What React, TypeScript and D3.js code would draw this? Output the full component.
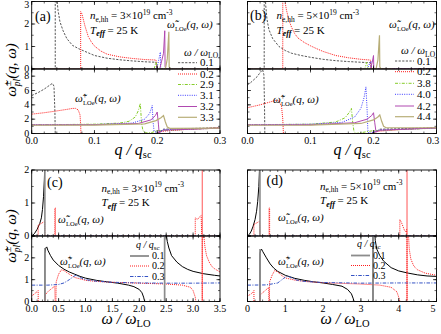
import React from "react";
import * as d3 from "d3";

type Pt = [number, number];

const SERIF = "'Liberation Serif', 'DejaVu Serif', serif";
const OMT = "\u03C9\u0303"; // omega with tilde

// ---------- (a)  n = 3e19, x = q/q_sc ----------
const aMinus01: Pt[] = [[0, 0], [0.0375, 0], [0.0375, 3.5], [0.0398, 3.5], [0.0405, 3.0], [0.042, 2.6], [0.045, 2.1], [0.05, 1.7], [0.056, 1.35], [0.065, 1.05], [0.075, 0.9], [0.085, 0.78], [0.1, 0.6], [0.12, 0.48], [0.14, 0.41], [0.16, 0.36], [0.18, 0.32], [0.198, 0.3], [0.2, 0], [0.3, 0]];
const aMinus02: Pt[] = [[0, 0], [0.078, 0], [0.078, 2.55], [0.08, 2.45], [0.085, 1.9], [0.09, 1.45], [0.095, 1.2], [0.1, 1.02], [0.11, 0.8], [0.12, 0.66], [0.14, 0.54], [0.16, 0.47], [0.18, 0.42], [0.198, 0.4], [0.2, 0], [0.3, 0]];
const aMinus29: Pt[] = [[0, 0], [0.195, 0], [0.198, 0.3], [0.2, 0.1], [0.201, 0], [0.3, 0]];
const aMinus31: Pt[] = [[0, 0], [0.199, 0], [0.202, 0.35], [0.205, 0.75], [0.2055, 0], [0.3, 0]];
const aMinus32: Pt[] = [[0, 0], [0.204, 0], [0.207, 0.35], [0.21, 0.7], [0.212, 1.7], [0.2125, 0.1], [0.214, 0], [0.3, 0]];
const aMinus33: Pt[] = [[0, 0], [0.213, 0], [0.216, 0.45], [0.2185, 1.65], [0.219, 0.1], [0.221, 0], [0.3, 0]];

const aPlus01: Pt[] = [[0, 5.3], [0.01, 5.7], [0.02, 6.2], [0.028, 6.7], [0.033, 7.0], [0.0355, 6.6], [0.037, 3.0], [0.0375, 0], [0.2, 0], [0.21, 0.6], [0.3, 0.8]];
const aPlus02: Pt[] = [[0, 2.7], [0.02, 2.9], [0.04, 3.15], [0.055, 3.35], [0.065, 3.5], [0.07, 3.5], [0.074, 3.3], [0.077, 2.6], [0.078, 1.2], [0.0785, 0], [0.2, 0], [0.205, 0.3], [0.25, 0.6], [0.3, 0.8]];
const aPlus29: Pt[] = [[0, 1.22], [0.05, 1.25], [0.1, 1.3], [0.14, 1.45], [0.155, 1.7], [0.165, 2.3], [0.17, 3.2], [0.173, 4.2], [0.175, 1.5], [0.177, 0.5], [0.18, 0.1], [0.19, 0.1], [0.2, 0.4], [0.3, 0.75]];
const aPlus31: Pt[] = [[0, 1.2], [0.1, 1.25], [0.16, 1.45], [0.18, 2.0], [0.188, 2.8], [0.192, 3.9], [0.1935, 1.5], [0.195, 0.3], [0.2, 0.1], [0.21, 0.55], [0.3, 0.75]];
const aPlus32: Pt[] = [[0, 1.2], [0.1, 1.22], [0.17, 1.4], [0.19, 1.9], [0.197, 2.5], [0.2, 3.0], [0.202, 1.2], [0.203, 0.1], [0.21, 0.45], [0.3, 0.75]];
const aPlus33: Pt[] = [[0, 1.15], [0.1, 1.18], [0.18, 1.35], [0.198, 1.8], [0.206, 2.2], [0.21, 2.5], [0.213, 1.6], [0.216, 0.9], [0.22, 0.72], [0.3, 0.75]];

// ---------- (b)  n = 5e19, x = q/q_sc ----------
const bMinus01: Pt[] = [[0, 0], [0.0265, 0], [0.0265, 3.5], [0.0278, 3.5], [0.029, 2.8], [0.031, 2.2], [0.034, 1.75], [0.04, 1.35], [0.05, 1.0], [0.06, 0.82], [0.07, 0.7], [0.085, 0.6], [0.1, 0.52], [0.12, 0.43], [0.14, 0.37], [0.16, 0.33], [0.18, 0.3], [0.195, 0.28], [0.197, 0], [0.3, 0]];
const bMinus02: Pt[] = [[0, 0], [0.056, 0], [0.056, 3.5], [0.058, 3.5], [0.0595, 3.0], [0.062, 2.6], [0.066, 2.15], [0.07, 1.85], [0.075, 1.57], [0.08, 1.38], [0.09, 1.18], [0.1, 1.03], [0.11, 0.9], [0.12, 0.78], [0.14, 0.6], [0.16, 0.5], [0.18, 0.43], [0.195, 0.4], [0.197, 0], [0.3, 0]];
const bMinus38: Pt[] = [[0, 0], [0.186, 0], [0.189, 0.3], [0.191, 0.05], [0.192, 0], [0.3, 0]];
const bMinus40: Pt[] = [[0, 0], [0.19, 0], [0.194, 0.25], [0.196, 0.35], [0.197, 0], [0.3, 0]];
const bMinus42: Pt[] = [[0, 0], [0.195, 0], [0.198, 0.3], [0.2, 0.6], [0.2005, 0], [0.3, 0]];
const bMinus44: Pt[] = [[0, 0], [0.204, 0], [0.207, 0.4], [0.2095, 1.5], [0.21, 0.1], [0.212, 0], [0.23, 0]];

const bPlus01: Pt[] = [[0, 6.8], [0.005, 7.1], [0.01, 7.5], [0.015, 7.9], [0.02, 8.5], [0.024, 8.9], [0.026, 8.2], [0.027, 4], [0.0275, 0], [0.2, 0], [0.21, 0.6], [0.3, 0.8]];
const bPlus02: Pt[] = [[0, 3.6], [0.01, 3.8], [0.02, 4.0], [0.03, 4.25], [0.04, 4.5], [0.046, 4.65], [0.05, 4.5], [0.054, 3.8], [0.056, 2.0], [0.057, 0], [0.195, 0], [0.205, 0.3], [0.25, 0.6], [0.3, 0.8]];
const bPlus38: Pt[] = [[0, 1.22], [0.1, 1.3], [0.14, 1.6], [0.155, 2.2], [0.162, 3.0], [0.165, 3.5], [0.167, 1.5], [0.169, 0.3], [0.172, 0], [0.2, 0.4], [0.3, 0.75]];
const bPlus40: Pt[] = [[0, 1.2], [0.1, 1.3], [0.15, 1.55], [0.17, 2.3], [0.18, 3.5], [0.185, 5.0], [0.188, 6.5], [0.19, 3.0], [0.191, 0.5], [0.193, 0], [0.21, 0.5], [0.3, 0.75]];
const bPlus42: Pt[] = [[0, 1.2], [0.1, 1.22], [0.17, 1.5], [0.19, 2.0], [0.197, 2.5], [0.2, 2.9], [0.202, 1.5], [0.204, 0.2], [0.21, 0.45], [0.3, 0.78]];
const bPlus44: Pt[] = [[0, 1.15], [0.1, 1.18], [0.18, 1.4], [0.2, 1.9], [0.207, 2.3], [0.21, 2.6], [0.213, 1.7], [0.216, 1.0], [0.22, 0.8], [0.3, 0.8]];

// ---------- (c)  n = 3e19, x = w/w_LO ----------
const cMinus01: Pt[] = [[0, 0], [0.05, 0.07], [0.1, 0.2], [0.15, 0.38], [0.18, 0.55], [0.2, 0.8], [0.22, 1.2], [0.235, 1.7], [0.245, 2.2]];
const cMinus02: Pt[] = [[0, 0], [0.12, 0], [0.12, 0.33], [0.18, 0.38], [0.24, 0.45], [0.245, 0], [0.43, 0], [0.43, 0.85], [0.44, 0.85], [0.44, 0], [3.04, 0], [3.04, 0.55], [3.08, 0.5], [3.12, 0.58], [3.15, 0.62], [3.16, 0], [3.5, 0]];
const cMinus03: Pt[] = [[0, 0], [3.5, 0]];

const cPlus01: Pt[] = [[0.245, 0], [0.245, 2.2], [0.26, 2.45], [0.28, 2.5], [0.3, 2.35], [0.35, 2.1], [0.4, 1.9], [0.5, 1.65], [0.6, 1.48], [0.7, 1.35], [0.8, 1.25], [0.9, 1.15], [1.0, 1.07], [1.2, 0.97], [1.4, 0.9], [1.6, 0.84], [1.8, 0.75], [1.9, 0.68], [2.0, 0.55], [2.05, 0.4], [2.08, 0.2], [2.1, 0], [2.47, 0], [2.47, 3.5], [2.49, 3.5], [2.5, 3.1], [2.52, 2.75], [2.55, 2.45], [2.6, 2.1], [2.7, 1.8], [2.8, 1.6], [2.9, 1.47], [3.0, 1.38], [3.2, 1.27], [3.4, 1.2], [3.5, 1.17]];
const cPlus02: Pt[] = [[0, 0.25], [0.05, 0.35], [0.1, 0.45], [0.12, 0.5], [0.121, 0], [0.245, 0], [0.25, 0.3], [0.3, 0.45], [0.35, 0.55], [0.4, 0.65], [0.43, 0.7], [0.435, 0], [0.45, 0], [0.455, 0.9], [0.5, 1.25], [0.55, 1.45], [0.6, 1.42], [0.7, 1.25], [0.8, 1.1], [1.0, 0.97], [1.2, 0.92], [1.5, 0.88], [2.0, 0.84], [2.5, 0.8], [2.8, 0.75], [2.95, 0.65], [3.0, 0.5], [3.04, 0.2], [3.05, 0], [3.17, 0], [3.17, 3.5], [3.19, 3.5], [3.2, 3.0], [3.22, 2.5], [3.25, 2.1], [3.3, 1.8], [3.35, 1.6], [3.4, 1.5], [3.5, 1.35]];
const cPlus03: Pt[] = [[0, 0.75], [0.3, 0.75], [0.5, 0.78], [0.6, 0.85], [0.7, 1.0], [0.78, 1.15], [0.82, 1.2], [0.9, 1.1], [1.0, 1.0], [1.2, 0.93], [1.5, 0.88], [2.0, 0.85], [2.5, 0.84], [3.0, 0.84], [3.5, 0.85]];

// ---------- (d)  n = 5e19, x = w/w_LO ----------
const dMinus01: Pt[] = [[0, 0], [0.05, 0.05], [0.1, 0.15], [0.15, 0.3], [0.2, 0.5], [0.24, 0.75], [0.27, 1.05], [0.3, 1.5], [0.32, 2.1]];
const dMinus02: Pt[] = [[0, 0], [0.17, 0], [0.17, 0.35], [0.25, 0.4], [0.32, 0.45], [0.33, 0], [0.57, 0], [0.57, 0.85], [0.585, 0.85], [0.585, 0], [4.03, 0], [4.03, 0.5], [4.07, 0.42], [4.11, 0.3], [4.15, 0.18], [4.19, 0.12], [4.21, 0.2], [4.215, 0], [5, 0]];
const dMinus03: Pt[] = [[0, 0], [5, 0]];

const dPlus01: Pt[] = [[0.33, 0], [0.33, 2.2], [0.35, 2.35], [0.37, 2.4], [0.4, 2.3], [0.5, 2.0], [0.6, 1.72], [0.7, 1.52], [0.8, 1.38], [1.0, 1.2], [1.25, 1.06], [1.5, 0.97], [1.75, 0.9], [2.0, 0.85], [2.25, 0.78], [2.5, 0.7], [2.65, 0.55], [2.75, 0.35], [2.8, 0.12], [2.82, 0], [3.32, 0], [3.32, 3.5], [3.35, 3.5], [3.38, 2.8], [3.42, 2.4], [3.5, 2.1], [3.6, 1.85], [3.8, 1.55], [4.0, 1.4], [4.25, 1.3], [4.5, 1.22], [4.75, 1.17], [5, 1.15]];
const dPlus02: Pt[] = [[0, 0.25], [0.1, 0.35], [0.15, 0.45], [0.17, 0.5], [0.171, 0], [0.33, 0], [0.335, 0.3], [0.4, 0.4], [0.5, 0.55], [0.56, 0.65], [0.565, 0], [0.58, 0], [0.585, 0.9], [0.65, 1.2], [0.72, 1.42], [0.8, 1.35], [0.9, 1.2], [1.0, 1.08], [1.25, 0.98], [1.5, 0.92], [2.0, 0.86], [2.5, 0.83], [3.0, 0.8], [3.5, 0.75], [3.8, 0.65], [3.95, 0.45], [4.02, 0.1], [4.03, 0], [4.22, 0], [4.22, 3.5], [4.24, 3.5], [4.26, 3.0], [4.28, 2.4], [4.32, 1.95], [4.4, 1.62], [4.5, 1.45], [4.7, 1.3], [5, 1.2]];
const dPlus03: Pt[] = [[0, 0.75], [0.5, 0.76], [0.8, 0.85], [0.95, 1.05], [1.05, 1.17], [1.15, 1.1], [1.3, 0.98], [1.5, 0.92], [2, 0.87], [3, 0.84], [4, 0.85], [5, 0.85]];

// poles: [x, top of gray line]
const cGrayUpper: Pt[] = [[0.245, 2]];
const cGrayLower: Pt[] = [[0.245, 2.45], [2.47, 3]];
const cRedPoles = [3.17];
const dGrayUpper: Pt[] = [[0.33, 2]];
const dGrayLower: Pt[] = [[0.33, 2.4], [3.32, 3]];
const dRedPoles = [4.22];

// legends / labels
const legendA = ["0.1", "0.2", "2.9", "3.1", "3.2", "3.3"];
const legendB = ["0.1", "0.2", "3.8", "4.0", "4.2", "4.4"];
const legendQ = ["0.1", "0.2", "0.3"];
const densities = ["3", "5"];
const panelTags = ["(a)", "(b)", "(c)", "(d)"];

interface Style { stroke: string; width: number; dash?: string }

const topStyles: Style[] = [
  { stroke: "#2a2a2a", width: 0.8, dash: "2.2,1.4" },
  { stroke: "#ff1a1a", width: 1, dash: "1,1" },
  { stroke: "#86cc2a", width: 1, dash: "3,1.4,1,1.4" },
  { stroke: "#3c3cff", width: 1, dash: "1,1.3" },
  { stroke: "#b049b0", width: 1 },
  { stroke: "#b8ae78", width: 1.2 },
];
const botStyles: Style[] = [
  { stroke: "#000", width: 1 },
  { stroke: "#ff1a1a", width: 1, dash: "1,1" },
  { stroke: "#3553c4", width: 1, dash: "3.5,1.4,1,1.4" },
];
const botLegendStyles: Style[] = [
  { stroke: "#8c8c8c", width: 1.8 },
  botStyles[1],
  botStyles[2],
];

interface SubProps {
  id: string;
  xr: [number, number];
  yr: [number, number];
  xDomain: [number, number];
  yDomain: [number, number];
  series: Pt[][];
  styles: Style[];
  grayPoles?: Pt[];
  redPoles?: number[];
  xMajor: number;
  xMinor: number;
  yMajor: number;
  yMinor: number;
  yLabels?: number[];
  xFormat?: (v: number) => string;
}

function Subplot(p: SubProps) {
  const [x0, x1] = p.xr;
  const [y0, y1] = p.yr;
  const x = d3.scaleLinear().domain(p.xDomain).range(p.xr);
  const y = d3.scaleLinear().domain(p.yDomain).range([y1, y0]);
  const line = d3.line<Pt>().x(d => x(d[0])).y(d => y(d[1]));
  const e = 1e-9;
  const xMaj = d3.range(p.xDomain[0], p.xDomain[1] + e, p.xMajor);
  const xMin = d3.range(p.xDomain[0], p.xDomain[1] + e, p.xMinor);
  const yMaj = d3.range(p.yDomain[0], p.yDomain[1] + e, p.yMajor);
  const yMin = d3.range(p.yDomain[0], p.yDomain[1] + e, p.yMinor);
  const tk = "#000";
  return (
    <g>
      <defs>
        <clipPath id={p.id}>
          <rect x={x0} y={y0} width={x1 - x0} height={y1 - y0} />
        </clipPath>
      </defs>
      <g clipPath={`url(#${p.id})`}>
        {p.series.map((s, i) => (
          <path key={i} d={line(s) ?? ""} fill="none" stroke={p.styles[i].stroke}
            strokeWidth={p.styles[i].width} strokeDasharray={p.styles[i].dash} />
        ))}
        {(p.grayPoles ?? []).map(([px, top], i) => (
          <line key={"g" + i} x1={x(px)} x2={x(px)} y1={y(0)} y2={y(top)} stroke="#8c8c8c" strokeWidth={1.6} />
        ))}
        {(p.redPoles ?? []).map((px, i) => (
          <line key={"r" + i} x1={x(px)} x2={x(px)} y1={y1} y2={y0} stroke="#ff2a2a" strokeWidth={0.8} />
        ))}
      </g>
      <rect x={x0} y={y0} width={x1 - x0} height={y1 - y0} fill="none" stroke="#000" strokeWidth={0.9} />
      {xMaj.map((v, i) => (
        <g key={"xM" + i}>
          <line x1={x(v)} x2={x(v)} y1={y1} y2={y1 - 3.5} stroke={tk} strokeWidth={0.7} />
          <line x1={x(v)} x2={x(v)} y1={y0} y2={y0 + 3.5} stroke={tk} strokeWidth={0.7} />
        </g>
      ))}
      {xMin.map((v, i) => (
        <g key={"xm" + i}>
          <line x1={x(v)} x2={x(v)} y1={y1} y2={y1 - 2} stroke={tk} strokeWidth={0.6} />
          <line x1={x(v)} x2={x(v)} y1={y0} y2={y0 + 2} stroke={tk} strokeWidth={0.6} />
        </g>
      ))}
      {yMaj.map((v, i) => (
        <g key={"yM" + i}>
          <line x1={x0} x2={x0 + 3.5} y1={y(v)} y2={y(v)} stroke={tk} strokeWidth={0.7} />
          <line x1={x1} x2={x1 - 3.5} y1={y(v)} y2={y(v)} stroke={tk} strokeWidth={0.7} />
        </g>
      ))}
      {yMin.map((v, i) => (
        <g key={"ym" + i}>
          <line x1={x0} x2={x0 + 2} y1={y(v)} y2={y(v)} stroke={tk} strokeWidth={0.6} />
          <line x1={x1} x2={x1 - 2} y1={y(v)} y2={y(v)} stroke={tk} strokeWidth={0.6} />
        </g>
      ))}
      {(p.yLabels ?? []).map((v, i) => (
        <text key={"yl" + i} x={x0 - 2.5} y={Math.max(y(v) + 3.3, 8)} textAnchor="end" fontFamily={SERIF} fontSize={10}>{v}</text>
      ))}
      {p.xFormat && xMaj.map((v, i) => (
        <text key={"xl" + i} x={Math.min(x(v), 433)} y={y1 + 10} textAnchor="middle" fontFamily={SERIF} fontSize={10}>{p.xFormat!(v)}</text>
      ))}
    </g>
  );
}

function OmegaLabel({ x, y, sign }: { x: number; y: number; sign: string }) {
  return (
    <text x={x} y={y} fontFamily={SERIF} fontSize={11} fontStyle="italic">
      {OMT}
      <tspan fontSize={7.5} dy={-4.5} fontStyle="normal">{sign}</tspan>
      <tspan fontSize={6.5} dx={-4} dy={7.5} fontStyle="normal">LOe</tspan>
      <tspan dy={-3}>{"(q, \u03C9)"}</tspan>
    </text>
  );
}

function Conditions({ x, y, dens }: { x: number; y: number; dens: string }) {
  return (
    <g fontFamily={SERIF} fontSize={11}>
      <text x={x} y={y}>
        <tspan fontStyle="italic">n</tspan>
        <tspan fontSize={7.5} dy={2.5}>e,hh</tspan>
        <tspan dy={-2.5}>{" = " + dens + "\u00D710"}</tspan>
        <tspan fontSize={7.5} dy={-4.5}>19</tspan>
        <tspan dy={4.5}>{" cm"}</tspan>
        <tspan fontSize={7.5} dy={-4.5}>-3</tspan>
      </text>
      <text x={x} y={y + 14.5}>
        <tspan fontStyle="italic">T</tspan>
        <tspan fontSize={8} dy={2.5} fontStyle="italic" fontWeight="bold">eff</tspan>
        <tspan dy={-2.5}>{" = 25 K"}</tspan>
      </text>
    </g>
  );
}

function Legend({ x, y, rows, labels, styles, title, size }: { x: number; y: number; rows: number[]; labels: string[]; styles: Style[]; title: React.ReactNode; size: number }) {
  return (
    <g fontFamily={SERIF} fontSize={size}>
      <text x={x + 6} y={y}>{title}</text>
      {labels.map((l, i) => (
        <g key={l + i}>
          <line x1={x} x2={x + 19} y1={rows[i]} y2={rows[i]} stroke={styles[i].stroke}
            strokeWidth={styles[i].width} strokeDasharray={styles[i].dash} />
          <text x={x + 22} y={rows[i] + size * 0.34}>{l}</text>
        </g>
      ))}
    </g>
  );
}

const wTitle = (
  <>
    <tspan fontStyle="italic">{"\u03C9 / \u03C9"}</tspan>
    <tspan fontSize={7.5} dy={2.5}>LO</tspan>
  </>
);
const qTitle = (
  <>
    <tspan fontStyle="italic">{"q / q"}</tspan>
    <tspan fontSize={7} dy={2}>sc</tspan>
  </>
);

function YTitle({ cx, cy }: { cx: number; cy: number }) {
  return (
    <text transform={`translate(${cx},${cy}) rotate(-90)`} textAnchor="middle" fontFamily={SERIF} fontSize={15} fontStyle="italic">
      {OMT}
      <tspan fontSize={10} dy={-5} fontStyle="normal">{"\u00B1"}</tspan>
      <tspan fontSize={9.5} dx={-5.5} dy={9}>pl</tspan>
      <tspan dy={-4}>{"(q, \u03C9)"}</tspan>
    </text>
  );
}

function XTitle({ cx, y, sym, sub }: { cx: number; y: number; sym: string; sub: string }) {
  return (
    <text x={cx} y={y} textAnchor="middle" fontFamily={SERIF} fontSize={16} fontStyle="italic">
      {sym + " / " + sym}
      <tspan fontSize={10.5} dy={3} fontStyle="normal">{sub}</tspan>
    </text>
  );
}

export default function App() {
  const colL: [number, number] = [31.7, 220];
  const colR: [number, number] = [247.5, 436.5];
  const tU: [number, number] = [1.5, 69];
  const tL: [number, number] = [69, 133.5];
  const bU: [number, number] = [170, 236];
  const bL: [number, number] = [236, 301.5];
  const f1 = d3.format(".1f");
  const f0 = d3.format("d");
  return (
    <svg width={441} height={334} style={{ position: "absolute", left: 0, top: 0, background: "#fff" }}>
      {/* (a) */}
      <Subplot id="aU" xr={colL} yr={tU} xDomain={[0, 0.3]} yDomain={[0, 3]}
        series={[aMinus01, aMinus02, aMinus29, aMinus31, aMinus32, aMinus33]} styles={topStyles}
        xMajor={0.1} xMinor={0.02} yMajor={1} yMinor={0.5} yLabels={[0, 1, 2, 3]} />
      <Subplot id="aL" xr={colL} yr={tL} xDomain={[0, 0.3]} yDomain={[0, 9]}
        series={[aPlus01, aPlus02, aPlus29, aPlus31, aPlus32, aPlus33]} styles={topStyles}
        xMajor={0.1} xMinor={0.02} yMajor={2} yMinor={1} yLabels={[0, 2, 4, 6, 8]} xFormat={f1} />
      {/* (b) */}
      <Subplot id="bU" xr={colR} yr={tU} xDomain={[0, 0.3]} yDomain={[0, 3]}
        series={[bMinus01, bMinus02, bMinus38, bMinus40, bMinus42, bMinus44]} styles={topStyles}
        xMajor={0.1} xMinor={0.02} yMajor={1} yMinor={0.5} />
      <Subplot id="bL" xr={colR} yr={tL} xDomain={[0, 0.3]} yDomain={[0, 9]}
        series={[bPlus01, bPlus02, bPlus38, bPlus40, bPlus42, bPlus44]} styles={topStyles}
        xMajor={0.1} xMinor={0.02} yMajor={2} yMinor={1} xFormat={f1} />
      {/* (c) */}
      <Subplot id="cU" xr={colL} yr={bU} xDomain={[0, 3.5]} yDomain={[0, 2]}
        series={[cMinus01, cMinus02, cMinus03]} styles={botStyles} grayPoles={cGrayUpper} redPoles={cRedPoles}
        xMajor={0.5} xMinor={0.1} yMajor={1} yMinor={0.5} yLabels={[0, 1, 2]} />
      <Subplot id="cL" xr={colL} yr={bL} xDomain={[0, 3.5]} yDomain={[0, 3]}
        series={[cPlus01, cPlus02, cPlus03]} styles={botStyles} grayPoles={cGrayLower} redPoles={cRedPoles}
        xMajor={0.5} xMinor={0.1} yMajor={1} yMinor={0.5} yLabels={[0, 1, 2]} xFormat={f1} />
      {/* (d) */}
      <Subplot id="dU" xr={colR} yr={bU} xDomain={[0, 5]} yDomain={[0, 2]}
        series={[dMinus01, dMinus02, dMinus03]} styles={botStyles} grayPoles={dGrayUpper} redPoles={dRedPoles}
        xMajor={1} xMinor={0.2} yMajor={1} yMinor={0.5} />
      <Subplot id="dL" xr={colR} yr={bL} xDomain={[0, 5]} yDomain={[0, 3]}
        series={[dPlus01, dPlus02, dPlus03]} styles={botStyles} grayPoles={dGrayLower} redPoles={dRedPoles}
        xMajor={1} xMinor={0.2} yMajor={1} yMinor={0.5} xFormat={f0} />

      {/* panel tags */}
      <g fontFamily={SERIF} fontSize={14}>
        <text x={35} y={21}>{panelTags[0]}</text>
        <text x={250} y={20}>{panelTags[1]}</text>
        <text x={47} y={186.5}>{panelTags[2]}</text>
        <text x={266.5} y={184.5}>{panelTags[3]}</text>
      </g>

      <Conditions x={90} y={19} dens={densities[0]} />
      <Conditions x={276.5} y={19} dens={densities[1]} />
      <Conditions x={101.5} y={191.5} dens={densities[0]} />
      <Conditions x={320} y={189.5} dens={densities[1]} />

      <OmegaLabel x={167} y={28} sign={"\u2212"} />
      <OmegaLabel x={75} y={102} sign="+" />
      <OmegaLabel x={389} y={28} sign={"\u2212"} />
      <OmegaLabel x={273} y={103} sign="+" />
      <OmegaLabel x={58} y={223} sign={"\u2212"} />
      <OmegaLabel x={60} y={264.5} sign="+" />
      <OmegaLabel x={278} y={221} sign={"\u2212"} />
      <OmegaLabel x={278} y={264.5} sign="+" />

      <Legend x={178} y={55.5} rows={[62.7, 74, 84.5, 95.3, 106.5, 117.3]} labels={legendA} styles={topStyles} title={wTitle} size={11} />
      <Legend x={395} y={54} rows={[61, 71.7, 83.3, 94.3, 106, 116.7]} labels={legendB} styles={topStyles} title={wTitle} size={11} />
      <Legend x={130} y={247.5} rows={[256, 266, 276.5]} labels={legendQ} styles={botLegendStyles} title={qTitle} size={10} />
      <Legend x={351} y={247} rows={[255.5, 265.5, 275.5]} labels={legendQ} styles={botLegendStyles} title={qTitle} size={10} />

      <YTitle cx={16} cy={70} />
      <YTitle cx={16} cy={236} />

      <XTitle cx={133} y={155} sym="q" sub="sc" />
      <XTitle cx={352} y={155} sym="q" sub="sc" />
      <XTitle cx={126} y={324} sym={"\u03C9"} sub="LO" />
      <XTitle cx={345} y={324} sym={"\u03C9"} sub="LO" />
    </svg>
  );
}
